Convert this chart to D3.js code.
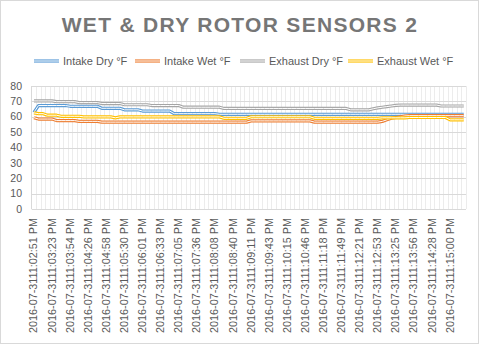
<!DOCTYPE html>
<html><head><meta charset="utf-8">
<script src="https://cdn.jsdelivr.net/npm/d3@7"></script>
<style>body{margin:0;background:#fff}svg{display:block;font-family:"Liberation Sans",Arial,sans-serif}</style>
</head><body><svg id="c" width="480" height="345"></svg>
<script>
const seriesNames = ["Intake Dry °F","Intake Wet °F","Exhaust Dry °F","Exhaust Wet °F"];
const seriesColors = ["#5B9BD5","#ED7D31","#A5A5A5","#FFC000"];
const tickLabels = ["2016-07-3111:02:51 PM","2016-07-3111:03:23 PM","2016-07-3111:03:54 PM","2016-07-3111:04:26 PM","2016-07-3111:04:58 PM","2016-07-3111:05:30 PM","2016-07-3111:06:01 PM","2016-07-3111:06:33 PM","2016-07-3111:07:05 PM","2016-07-3111:07:36 PM","2016-07-3111:08:08 PM","2016-07-3111:08:40 PM","2016-07-3111:09:11 PM","2016-07-3111:09:43 PM","2016-07-3111:10:15 PM","2016-07-3111:10:46 PM","2016-07-3111:11:18 PM","2016-07-3111:11:49 PM","2016-07-3111:12:21 PM","2016-07-3111:12:53 PM","2016-07-3111:13:25 PM","2016-07-3111:13:56 PM","2016-07-3111:14:28 PM","2016-07-3111:15:00 PM"];
const yTicks = [0,10,20,30,40,50,60,70,80];
const intakeDry = [62.9,67.3,67.3,67.3,67.3,67.3,67.3,67.3,
 66.8,66.8,66.8,66.8,66.8,66.8,66.8,
 65.5,65.5,65.5,65.5,65.5,
 64.5,64.5,64.5,64.5,
 63.7,63.7,63.7,63.7,63.7,63.7,63.7,
 62,62,62,62,62,62,62,62,62,62,
 61.6,61.6,61.6,61.6,61.6,61.6,61.6,61.6,61.6,61.6,61.6,61.6,61.6,61.6,61.6,61.6,61.6,61.6,61.6,61.6,61.6,61.6,61.6,61.6,61.6,61.6,61.6,61.6,61.6,61.6,61.6,61.6,61.6,61.6,61.6,61.6,61.6,61.6,61.6,61.6,61.6,61.6,61.6,61.6,61.6,61.6,61.6,61.6,61.6,61.6,61.6,61.6,61.6,61.6,61.6];
const intakeWet = [59.4,58.5,58.5,58.5,58.5,
 57.5,57.5,57.5,57.5,57.5,
 57,57,57,57,57,
 56.5,56.5,56.5,56.5,56.5,56.5,56.5,56.5,56.5,56.5,56.5,56.5,56.5,56.5,56.5,56.5,56.5,56.5,56.5,56.5,56.5,56.5,56.5,56.5,56.5,56.5,56.5,56.5,56.5,56.5,56.5,56.5,56.5,
 57.3,57.3,57.3,57.3,57.3,57.3,57.3,57.3,57.3,57.3,57.3,57.3,57.3,57.3,
 56.5,56.5,56.5,56.5,56.5,56.5,56.5,56.5,56.5,56.5,56.5,56.5,56.5,56.5,56.5,
 57,58,59,59.5,60,60.5,
 60.7,60.7,60.7,60.7,60.7,60.7,60.7,60.7,60.7,60.7,60.7,60.7,60.7];
const exhaustDry = [70.3,70.3,70.3,70.3,70.3,
 69.8,69.8,69.8,69.8,69.8,
 69.2,69.2,69.2,69.2,69.2,
 68.6,68.6,68.6,68.6,68.6,
 67.8,67.8,67.8,67.8,67.8,67.8,
 67.3,67.3,67.3,67.3,67.3,67.3,67.3,
 66.2,66.2,66.2,66.2,66.2,66.2,66.2,66.2,66.2,
 65.4,65.4,65.4,65.4,65.4,65.4,65.4,65.4,65.4,65.4,65.4,65.4,65.4,65.4,65.4,65.4,65.4,65.4,65.4,65.4,65.4,65.4,65.4,65.4,65.4,65.4,65.4,65.4,
 64.5,64.5,64.5,64.5,64.5,
 65.2,65.8,66.2,66.6,67,67.4,
 67.6,67.6,67.6,67.6,67.6,67.6,67.6,67.6,67.6,
 67,67,67,67,67,67];
const exhaustWet = [62.5,62,62,61,61,61,
 60.3,60.3,60.3,60.3,60.3,
 59.9,59.9,59.9,59.9,59.9,59.9,59.9,59.3,59.9,59.9,59.9,59.9,59.9,59.9,59.9,59.9,59.9,59.9,59.9,59.9,59.9,59.9,59.9,59.9,59.9,59.9,59.9,59.9,59.9,59.9,59.9,
 59,59,59,59,59,59,
 60,60,60,60,60,60,60,60,60,60,60,60,60,60,
 59,59,59,59,59,59,59,59,59,59,59,59,59,59,59,
 59.3,59.3,59.3,59.3,59.3,59.3,
 59.5,59.5,59.5,59.5,59.5,59.5,59.5,59.5,59.5,
 58,58,58,58];
const seriesValues = [intakeDry, intakeWet, exhaustDry, exhaustWet];

const svg = d3.select("#c");
svg.append("rect").attr("x",0.5).attr("y",0.5).attr("width",478).attr("height",343).attr("fill","#fff").attr("stroke","#d9d9d9");

const n = intakeDry.length;
const x = d3.scaleBand().domain(d3.range(n)).range([31.7,466]).padding(0);
const cx = i => x(i) + x.bandwidth()/2;
const y = d3.scaleLinear().domain([0,80]).range([209,86]);

// vertical minor gridlines
svg.append("g").selectAll("line").data(d3.range(1,n+1)).join("line")
  .attr("x1",i=>Math.round(x(i-1)+x.bandwidth())+0.5).attr("x2",i=>Math.round(x(i-1)+x.bandwidth())+0.5)
  .attr("y1",y(80)).attr("y2",y(0)).attr("stroke","#ececec").attr("stroke-width",1);
// horizontal major gridlines
svg.append("g").selectAll("line").data(yTicks.slice(1)).join("line")
  .attr("x1",31.7).attr("x2",466).attr("y1",d=>Math.round(y(d))+0.5).attr("y2",d=>Math.round(y(d))+0.5)
  .attr("stroke","#d9d9d9");
// axes lines
svg.append("line").attr("x1",31.7).attr("x2",466).attr("y1",Math.round(y(0))+0.5).attr("y2",Math.round(y(0))+0.5).attr("stroke","#d9d9d9");
svg.append("line").attr("x1",31.5).attr("x2",31.5).attr("y1",y(80)).attr("y2",y(0)).attr("stroke","#d9d9d9");

// y labels
svg.append("g").selectAll("text").data(yTicks).join("text")
  .attr("x",22).attr("y",d=>y(d)).attr("dy","0.35em").attr("text-anchor","end")
  .attr("font-size",10.5).attr("fill","#595959").text(d=>d);

// x labels
svg.append("g").selectAll("text").data(tickLabels).join("text")
  .attr("transform",(d,k)=>`translate(${cx(k*4)},218) rotate(-90)`)
  .attr("dy","0.35em").attr("text-anchor","end")
  .attr("font-size",10).attr("textLength",115).attr("lengthAdjust","spacingAndGlyphs")
  .attr("fill","#595959").text(d=>d);

// lines
const line = d3.line().x((d,i)=>cx(i)).y(d=>y(d));
seriesValues.forEach((vals,s)=>{
  const g = svg.append("g");
  g.append("path").attr("d",line(vals)).attr("fill","none").attr("stroke",seriesColors[s]).attr("stroke-width",3.2).attr("stroke-linejoin","round");
  g.append("path").attr("d",line(vals)).attr("fill","none").attr("stroke","#fff").attr("stroke-width",1).attr("stroke-linejoin","round");
});

// title
svg.append("text").attr("x",240).attr("y",32).attr("text-anchor","middle")
  .attr("font-size",21).attr("font-weight","bold").attr("letter-spacing",1.3)
  .attr("fill","#767676").text("WET & DRY ROTOR SENSORS 2");

// legend
const legX = [34,135,240,348];
seriesNames.forEach((nm,s)=>{
  const g = svg.append("g");
  g.append("line").attr("x1",legX[s]).attr("x2",legX[s]+25).attr("y1",61).attr("y2",61).attr("stroke",seriesColors[s]).attr("stroke-width",3.2);
  g.append("line").attr("x1",legX[s]).attr("x2",legX[s]+25).attr("y1",61).attr("y2",61).attr("stroke","#fff").attr("stroke-width",1);
  g.append("text").attr("x",legX[s]+29).attr("y",61).attr("dy","0.35em").attr("font-size",11).attr("fill","#595959").text(nm);
});
</script></body></html>
